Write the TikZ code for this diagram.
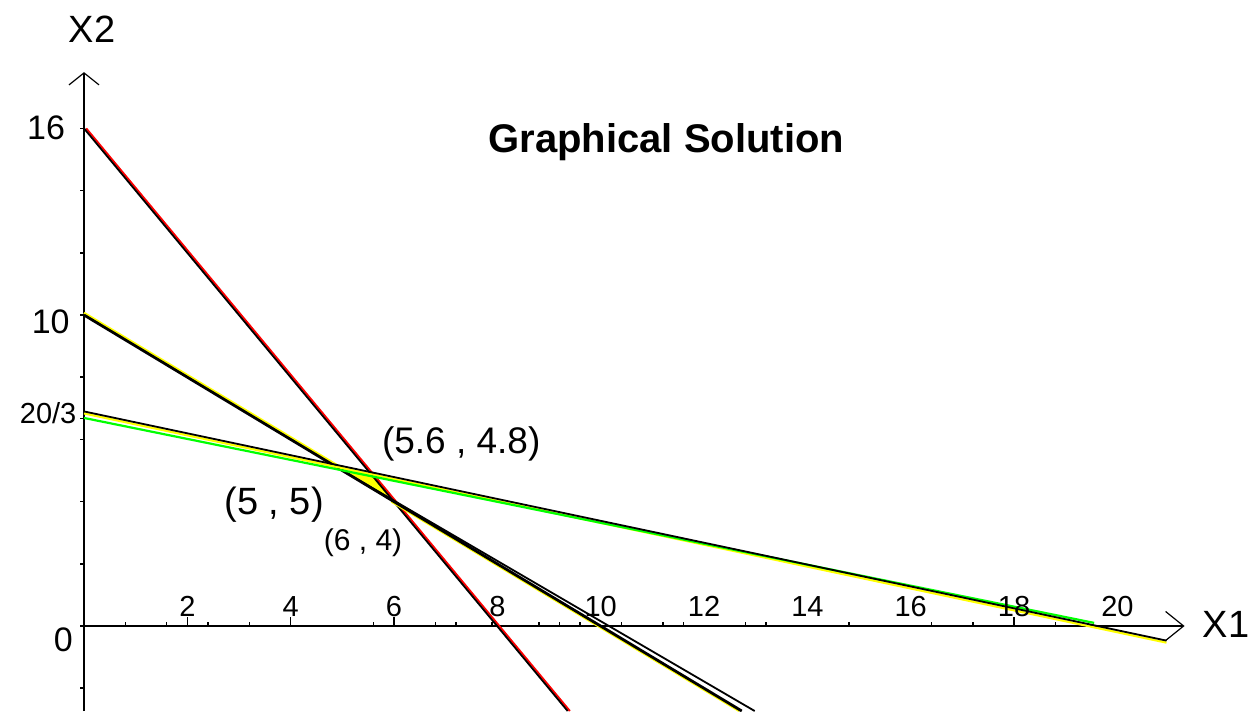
\documentclass[tikz,border=0pt]{standalone}
\usepackage{fontspec}
\setmainfont{Liberation Sans}
\usetikzlibrary{arrows.meta}
\definecolor{cred}{RGB}{255,0,0}
\definecolor{cyel}{RGB}{255,255,0}
\definecolor{cgrn}{RGB}{0,255,0}
\tikzset{
  axis/.style={line width=1pt,draw=black},
  tck/.style={line width=0.8pt,draw=black},
  blk/.style={line width=0.9pt,draw=black},
  thk/.style={line width=1.4pt,draw=black},
  redl/.style={line width=1pt,draw=cred},
  yell/.style={line width=1.1pt,draw=cyel},
  grnl/.style={line width=1.1pt,draw=cgrn},
  ylab/.style={anchor=east,font=\fontsize{17}{20}\selectfont,inner sep=0pt},
  xlab/.style={font=\fontsize{14.5}{17}\selectfont,inner sep=0pt},
  ptlab/.style={inner sep=0pt},
  ttl/.style={font=\fontsize{20}{24}\selectfont\bfseries,anchor=base,inner sep=0pt},
}

\begin{document}
\begin{tikzpicture}[x=25.835pt,y=15.55pt]
  \useasboundingbox (-1.626,-2.733) rectangle (22.644,20.129);

  % axes
  \coordinate (ybot) at (0,-2.733);
  \coordinate (ytop) at (0,17.81);
  \coordinate (xlft) at (-0.04,0);
  \coordinate (xrgt) at (21.3,0);
  \draw[axis,-{Straight Barb[length=6pt,width=15pt,line width=0.6pt]}] (ybot) -- (ytop);
  \draw[axis,-{Straight Barb[length=9pt,width=14.5pt,line width=0.6pt]}] (xlft) -- (xrgt);
  \foreach \y in {-2,0,...,16,6.667}
    \draw[tck] (0,\y) -- (-0.08,\y);
  \foreach \x in {0.8,1.6,2.4,3.2,5.6,6.8,7.2,7.9,8.8,9.2,9.6,10.4,11.2,11.6,12.8,13.2,14.8,16.4,17.2,18.8}
    \draw[tck] (\x,0) -- (\x,0.13);
  \foreach \x in {2,4,6,18}
    \draw[tck] (\x,0) -- (\x,0.3);

  % corner points
  \coordinate (p55) at (5,5);
  \coordinate (p5648) at (5.6,4.8);
  \coordinate (p64) at (6,4);
  \fill[cyel] (5.02,5.02) -- (5.65,4.85) -- (5.95,4.1) -- cycle;

  % 2x1 + x2 = 16
  \coordinate (r0) at (0,16);
  \coordinate (r1) at (9.36,-2.733);
  \draw[redl] ([xshift=1.1pt]r0) -- ([xshift=1.1pt]r1);
  \draw[blk] (r0) -- (r1);

  % x1 + x2 = 10
  \coordinate (y0) at (0,10);
  \coordinate (y1) at (12.73,-2.733);
  \coordinate (y2) at (12.98,-2.733);
  \draw[yell] ([yshift=1.1pt]y0) -- ([yshift=1.1pt]p55);
  \draw[yell] ([xshift=-1.3pt]p64) -- ([xshift=-1.3pt]y1);
  \draw[thk] (y0) -- (y1);
  \draw[blk] (p55) -- (y2);

  % x1 + 3x2 = 20
  \coordinate (g0) at (0,6.9);
  \coordinate (g1) at (20.95,-0.47);
  \coordinate (gA) at (0,6.69);
  \coordinate (gB) at (19.55,0.1);
  \draw[yell] ([yshift=-1pt]g0) -- ([yshift=-1pt]g1);
  \draw[grnl] (gA) -- (gB);
  \draw[blk] (g0) -- (g1);

  % labels
  \node[ylab] (l16) at (-0.36,16.03) {16};
  \node[ylab] (l10) at (-0.27,9.79) {10};
  \node[ylab,font=\fontsize{14.5}{17}\selectfont] (l203) at (-0.14,6.85) {20/3};
  \node[ylab] (l0) at (-0.21,-0.45) {0};
  \foreach \v in {2,4,...,20}
    \node[xlab] (x\v) at (\v,0.64) {\v};
  \node[font=\fontsize{19}{22}\selectfont,inner sep=0pt] (X2) at (0.155,19.2) {X2};
  \node[font=\fontsize{19}{22}\selectfont,inner sep=0pt] (X1) at (22.1,0.06) {X1};
  \node[ptlab,font=\fontsize{18.5}{22}\selectfont] (t5648) at (7.30,5.85) {(5.6 , 4.8)};
  \node[ptlab,font=\fontsize{19}{22}\selectfont] (t55) at (3.68,3.89) {(5 , 5)};
  \node[ptlab,font=\fontsize{15}{18}\selectfont] (t64) at (5.40,2.67) {(6 , 4)};
  \node[ttl] (title) at (11.27,15.21) {Graphical Solution};
\end{tikzpicture}
\end{document}
